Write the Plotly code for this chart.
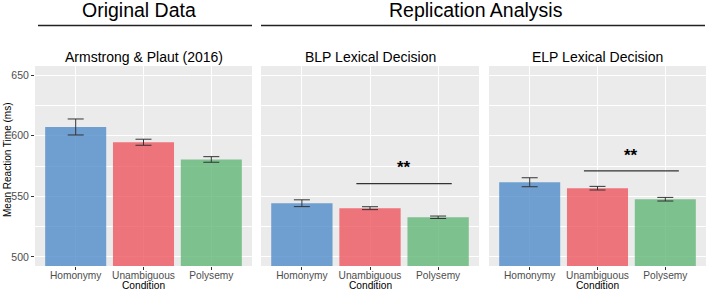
import plotly.graph_objects as go

categories = ["Homonymy", "Unambiguous", "Polysemy"]
panel_titles = ["Armstrong & Plaut (2016)", "BLP Lexical Decision", "ELP Lexical Decision"]
means_ap = [607.2, 594.6, 580.4]
se_ap = [6.6, 2.5, 2.3]
means_blp = [544.3, 540.2, 532.7]
se_blp = [2.8, 1.2, 1.0]
means_elp = [561.6, 556.7, 547.6]
se_elp = [3.7, 1.5, 1.5]
sig_line_y = [None, 560.5, 571.0]
sig_text_y = [None, 573.5, 583.5]
y_ticks = [500, 550, 600, 650]

means = [means_ap, means_blp, means_elp]
ses = [se_ap, se_blp, se_elp]
colors = ["rgba(80,139,201,0.8)", "rgba(239,86,95,0.8)", "rgba(97,182,120,0.8)"]

W, H = 708, 290
FONT = "Liberation Sans, Arial, sans-serif"
px_x = lambda p: p / W
px_y = lambda p: 1 - p / H

domains = [(35, 252), (261, 479), (489, 706)]
ytop, ybot = 66, 266

fig = go.Figure()
xpos = [0, 1, 2]
for i in range(3):
    ax = "" if i == 0 else str(i + 1)
    fig.add_trace(go.Bar(
        x=xpos, y=means[i], width=0.9, base=0,
        marker=dict(color=colors, line=dict(width=0)),
        error_y=dict(type="data", array=ses[i], visible=True, color="#333333",
                     thickness=1, width=8),
        xaxis="x" + ax, yaxis="y" + ax, showlegend=False, hoverinfo="skip"))

layout = dict(width=W, height=H, margin=dict(l=0, r=0, t=0, b=0, autoexpand=False),
              paper_bgcolor="white", plot_bgcolor="#EBEBEB",
              font=dict(family=FONT, size=10, color="black"), showlegend=False)
shapes = []
annotations = []
for i in range(3):
    ax = "" if i == 0 else str(i + 1)
    d0, d1 = domains[i]
    layout["xaxis" + ax] = dict(
        domain=[px_x(d0), px_x(d1)], range=[-0.6, 2.6], automargin=False,
        tickvals=xpos, ticktext=categories, ticks="outside", ticklen=2.5,
        tickcolor="#333333", tickfont=dict(size=10.2, color="#4D4D4D"),
        ticklabelstandoff=-3,
        showgrid=True, gridcolor="white", gridwidth=1.1, zeroline=False,
        showline=False, anchor="y" + ax)
    layout["yaxis" + ax] = dict(
        domain=[px_y(ybot), px_y(ytop)], range=[492.5, 657.5], automargin=False,
        tickvals=y_ticks, ticks="outside" if i == 0 else "", ticklen=3,
        tickcolor="#333333", tickfont=dict(size=10.5, color="#4D4D4D"),
        showticklabels=(i == 0), showgrid=True, gridcolor="white", gridwidth=1.1,
        minor=dict(tickvals=[525, 575, 625], showgrid=True, gridcolor="white", gridwidth=0.5, ticklen=0),
        zeroline=False, showline=False, anchor="x" + ax)
    annotations.append(dict(text=panel_titles[i], x=px_x((d0 + d1) / 2), y=px_y(57),
                            xref="paper", yref="paper", showarrow=False,
                            xanchor="center", yanchor="middle", font=dict(size=14, color="black")))
    annotations.append(dict(text="Condition", x=px_x((d0 + d1) / 2), y=px_y(285.3),
                            xref="paper", yref="paper", showarrow=False,
                            xanchor="center", yanchor="middle", font=dict(size=10.2, color="black")))
    if sig_line_y[i] is not None:
        shapes.append(dict(type="line", xref="x" + ax, yref="y" + ax, x0=0.8, x1=2.2,
                           y0=sig_line_y[i], y1=sig_line_y[i], line=dict(color="#333333", width=1.3)))
        annotations.append(dict(text="<b>**</b>", x=1.5, y=sig_text_y[i], xref="x" + ax, yref="y" + ax,
                                showarrow=False, xanchor="center", yanchor="middle",
                                font=dict(size=17, color="black")))

annotations.append(dict(text="Mean Reaction Time (ms)", x=px_x(7), y=px_y(160), xref="paper", yref="paper",
                        showarrow=False, xanchor="center", yanchor="middle", textangle=-90,
                        font=dict(size=10, color="black")))
# group headers
annotations.append(dict(text="Original Data", x=px_x(139), y=px_y(10), xref="paper", yref="paper",
                        showarrow=False, xanchor="center", yanchor="middle", font=dict(size=19.5, color="black")))
annotations.append(dict(text="Replication Analysis", x=px_x(476), y=px_y(10), xref="paper", yref="paper",
                        showarrow=False, xanchor="center", yanchor="middle", font=dict(size=19.5, color="black")))
shapes.append(dict(type="line", xref="paper", yref="paper", x0=px_x(38), x1=px_x(252),
                   y0=px_y(25.5), y1=px_y(25.5), line=dict(color="#222222", width=1.3)))
shapes.append(dict(type="line", xref="paper", yref="paper", x0=px_x(261), x1=px_x(705),
                   y0=px_y(25.5), y1=px_y(25.5), line=dict(color="#222222", width=1.3)))

layout["shapes"] = shapes
layout["annotations"] = annotations
fig.update_layout(**layout)
fig.write_html("out.html", config={"displayModeBar": False},
               post_script="document.body.style.margin='0';document.body.style.padding='0';document.body.style.overflow='hidden';")
